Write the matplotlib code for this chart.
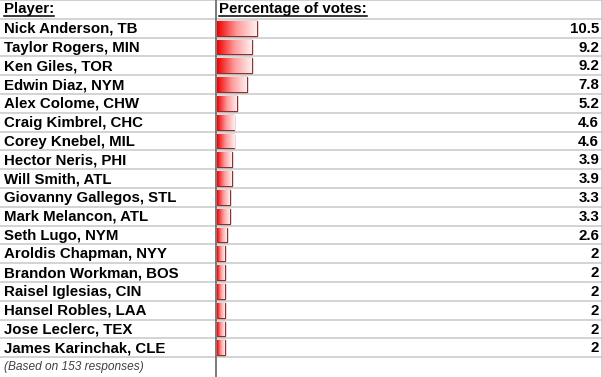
import numpy as np
import matplotlib
matplotlib.use("Agg")
import matplotlib.pyplot as plt
from matplotlib.colors import LinearSegmentedColormap
from matplotlib.patches import Rectangle

players = ["Nick Anderson, TB", "Taylor Rogers, MIN", "Ken Giles, TOR", "Edwin Diaz, NYM",
           "Alex Colome, CHW", "Craig Kimbrel, CHC", "Corey Knebel, MIL", "Hector Neris, PHI",
           "Will Smith, ATL", "Giovanny Gallegos, STL", "Mark Melancon, ATL", "Seth Lugo, NYM",
           "Aroldis Chapman, NYY", "Brandon Workman, BOS", "Raisel Iglesias, CIN",
           "Hansel Robles, LAA", "Jose Leclerc, TEX", "James Karinchak, CLE"]
votes = [10.5, 9.2, 9.2, 7.8, 5.2, 4.6, 4.6, 3.9, 3.9, 3.3, 3.3, 2.6, 2, 2, 2, 2, 2, 2]
vote_labels = ["10.5", "9.2", "9.2", "7.8", "5.2", "4.6", "4.6", "3.9", "3.9", "3.3",
               "3.3", "2.6", "2", "2", "2", "2", "2", "2"]
header = ["Player:", "Percentage of votes:"]
footer = "(Based on 153 responses)"

W, H = 603, 377
ROW = 18.8
nrows = H / ROW
plt.rcParams['font.family'] = ['Liberation Sans', 'DejaVu Sans']

fig = plt.figure(figsize=(W / 100, H / 100), dpi=100)
ax = fig.add_axes([0, 0, 1, 1])
ax.set_xlim(0, W)
ax.set_ylim(nrows, 0)
ax.axis('off')

# bar column: 0-100 % scale
ax_bar = fig.add_axes([217 / W, 0, 380 / W, 1])
ax_bar.set_xlim(0, 100)
ax_bar.set_ylim(nrows, 0)
ax_bar.axis('off')

# grid lines
grid_c = '#c8c8c8'
for i in range(1, len(players) + 2):
    ax.axhline(i, color=grid_c, lw=1.1)
ax.axhline(0.02, color=grid_c, lw=1.2)
ax.axvline(215.5, color='#707070', lw=1.3)
ax.axvline(602, color=grid_c, lw=1.2)

# header
fsz = 10.8
for x, txt in zip([4, 219], header):
    t = ax.text(x, 0.5, txt, fontsize=fsz, fontweight='bold', va='center', ha='left')
fig.canvas.draw()
rend = fig.canvas.get_renderer()
for t in ax.texts:
    bb = t.get_window_extent(rend).transformed(ax.transData.inverted())
    ax.plot([bb.x0, bb.x1], [0.86, 0.86], color='black', lw=1.1)

cmap = LinearSegmentedColormap.from_list('bar', ['#f00000', '#ff9a9a', '#fff0f0'])
grad = np.linspace(0, 1, 256).reshape(1, -1)
bh = 0.78

for i, (name, v, lab) in enumerate(zip(players, votes, vote_labels)):
    yc = i + 1.5
    ax.text(4, yc + 0.03, name, fontsize=fsz, fontweight='bold', va='center', ha='left')
    ax.text(599, yc + 0.03, lab, fontsize=fsz, fontweight='bold', va='center', ha='right')
    rect = Rectangle((0, yc - bh / 2), v, bh, facecolor='none', edgecolor='#8c3030', lw=1.0)
    ax_bar.add_patch(rect)
    im = ax_bar.imshow(grad, cmap=cmap, aspect='auto',
                       extent=[0, v, yc + bh / 2, yc - bh / 2], zorder=1)
    im.set_clip_path(rect)
ax_bar.set_xlim(0, 100)
ax_bar.set_ylim(nrows, 0)

ax.text(4, len(players) + 1.5, footer, fontsize=8.6, style='italic', color='#404040',
        va='center', ha='left')

fig.savefig('out.png', dpi=100)
